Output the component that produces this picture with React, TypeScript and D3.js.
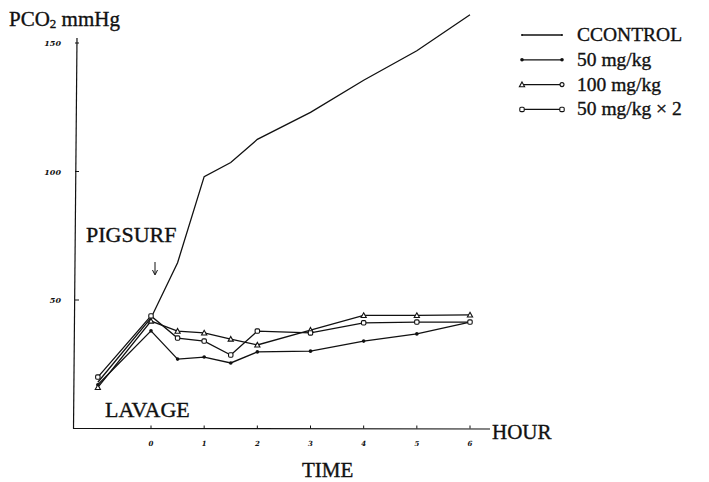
import React from "react";
import * as d3 from "d3";

const hours = [-1, 0, 0.5, 1, 1.5, 2, 3, 4, 5, 6];
const control = [18, 43, 64.5, 98, 103.5, 112.5, 123, 135.5, 147, 161];
const mg50 = [17, 38, 27, 27.8, 25.5, 29.8, 30.1, 34, 36.8, 41.4];
const mg100 = [16, 41.8, 37.9, 37.2, 34.8, 32.5, 38.3, 44, 44, 44.2];
const mg50x2 = [20, 43.8, 35.2, 34, 28.6, 37.9, 37.2, 41.1, 41.4, 41.4];

const xTicks = [0, 1, 2, 3, 4, 5, 6];
const yTicks = [50, 100, 150];
const legendLabels = ["CCONTROL", "50 mg/kg", "100 mg/kg", "50 mg/kg \u00d7 2"];

const serif = "'Liberation Serif', 'Times New Roman', serif";
const ink = "#111";

type Marker = "none" | "dot" | "tri" | "sq" | "circ";

function MarkerShape({ kind, cx, cy }: { kind: Marker; cx: number; cy: number }) {
  if (kind === "dot") return <circle cx={cx} cy={cy} r={1.8} fill={ink} />;
  if (kind === "tri") {
    const s = 2.6;
    return (
      <path
        d={`M${cx},${cy - s} L${cx + s},${cy + s * 0.8} L${cx - s},${cy + s * 0.8} Z`}
        fill="#fff"
        stroke={ink}
        strokeWidth={1.1}
      />
    );
  }
  if (kind === "sq")
    return (
      <rect x={cx - 2.2} y={cy - 2.2} width={4.4} height={4.4} rx={1.2} fill="#fff" stroke={ink} strokeWidth={1.1} />
    );
  if (kind === "circ") return <circle cx={cx} cy={cy} r={2} fill="#fff" stroke={ink} strokeWidth={1.1} />;
  if (kind === "none") return <circle cx={cx} cy={cy} r={1} fill={ink} />;
  return null;
}

export default function App() {
  const x = d3.scaleLinear().domain([0, 6]).range([151, 470]);
  const y = d3.scaleLinear().domain([0, 150]).range([428.5, 43]);

  const series: { vals: number[]; marker: Marker }[] = [
    { vals: control, marker: "none" },
    { vals: mg50, marker: "dot" },
    { vals: mg100, marker: "tri" },
    { vals: mg50x2, marker: "sq" },
  ];

  const line = d3
    .line<number>()
    .x((_, i) => x(hours[i]))
    .y((d) => y(d));

  const axisX0 = 74;
  const axisY0 = y(0);
  const textStroke = { stroke: ink, strokeWidth: 0.35 };

  return (
    <svg width={709} height={482} style={{ position: "absolute", left: 0, top: 0, background: "#fff" }}>
      <rect width={709} height={482} fill="#fff" />
      {/* axes */}
      <line x1={77} y1={38} x2={73.5} y2={axisY0} stroke={ink} strokeWidth={1.2} />
      <line x1={73} y1={axisY0} x2={490} y2={axisY0 + 0.5} stroke={ink} strokeWidth={1.2} />
      {yTicks.map((t) => (
        <g key={t}>
          <line x1={axisX0 + 1} x2={axisX0 + 5} y1={y(t)} y2={y(t)} stroke={ink} strokeWidth={1} />
          <text
            x={61}
            y={y(t) + 3}
            textAnchor="end"
            fontFamily="'DejaVu Serif', serif"
            fontStyle="italic"
            fontWeight="bold"
            fontSize={8}
            fill={ink}
          >
            {t}
          </text>
        </g>
      ))}
      {xTicks.map((t) => (
        <g key={t}>
          <line x1={x(t)} x2={x(t)} y1={axisY0} y2={axisY0 - 3} stroke={ink} strokeWidth={1} />
          <text
            x={x(t)}
            y={axisY0 + 17}
            textAnchor="middle"
            fontFamily="'DejaVu Serif', serif"
            fontStyle="italic"
            fontWeight="bold"
            fontSize={7}
            fill={ink}
          >
            {t}
          </text>
        </g>
      ))}

      {/* data lines */}
      {series.map((s, si) => (
        <g key={si}>
          <path d={line(s.vals) || ""} fill="none" stroke={ink} strokeWidth={1.3} />
          {s.marker !== "none" &&
            s.vals.map((v, i) => <MarkerShape key={i} kind={s.marker} cx={x(hours[i])} cy={y(v)} />)}
        </g>
      ))}

      {/* annotations */}
      <text x={9} y={26} fontFamily={serif} fontSize={21} fill={ink} {...textStroke}>
        PCO<tspan fontSize={13} dy={2}>2</tspan>
        <tspan dy={-2}> mmHg</tspan>
      </text>
      <text x={86} y={242} fontFamily={serif} fontSize={22} fill={ink} {...textStroke}>
        PIGSURF
      </text>
      <line x1={155} y1={262} x2={155} y2={274} stroke={ink} strokeWidth={1} />
      <path d="M152.5,270 L155,275 L157.5,270" fill="none" stroke={ink} strokeWidth={1} />
      <text x={105} y={417} fontFamily={serif} fontSize={22} fill={ink} {...textStroke}>
        LAVAGE
      </text>
      <text x={492} y={439} fontFamily={serif} fontSize={21} fill={ink} {...textStroke}>
        HOUR
      </text>
      <text x={302} y={477} fontFamily={serif} fontSize={21} fill={ink} {...textStroke}>
        TIME
      </text>

      {/* legend */}
      {legendLabels.map((lab, i) => {
        const ly = 35 + i * 24.8;
        const s = series[i];
        const leftKind: Marker = s.marker;
        const rightKind: Marker = s.marker === "tri" ? "circ" : s.marker;
        return (
          <g key={lab}>
            <line x1={522} x2={562} y1={ly} y2={ly} stroke={ink} strokeWidth={1.3} />
            <MarkerShape kind={leftKind} cx={522} cy={ly} />
            <MarkerShape kind={rightKind} cx={562} cy={ly} />
            <text x={577} y={ly + 6} fontFamily={serif} fontSize={19.5} fill={ink} {...textStroke}>
              {lab}
            </text>
          </g>
        );
      })}
    </svg>
  );
}
